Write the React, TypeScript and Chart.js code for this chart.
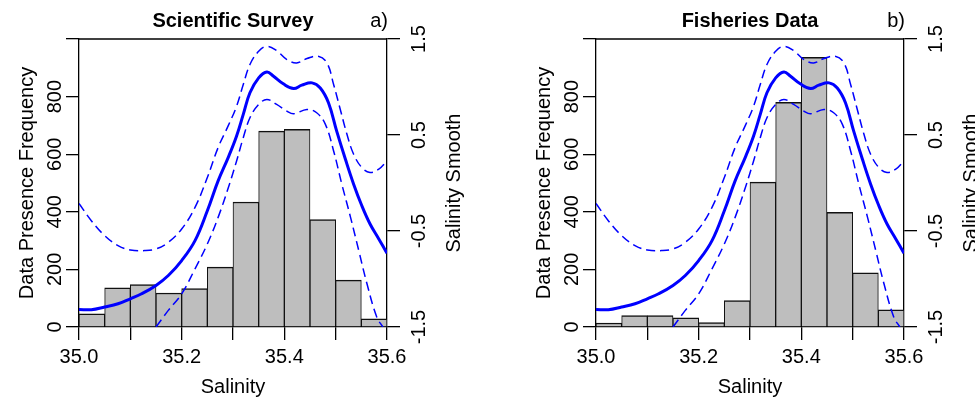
import React, { useEffect, useRef } from "react";
import { Chart, registerables } from "chart.js";

Chart.register(...registerables);

// Histogram bins (salinity bin centres, bin width 0.05)
const binCenters = [35.025, 35.075, 35.125, 35.175, 35.225, 35.275, 35.325, 35.375, 35.425, 35.475, 35.525, 35.575];
const surveyCounts = [46, 136, 147, 118, 133, 208, 434, 680, 686, 373, 163, 28];
const fisheryCounts = [14, 40, 40, 32, 15, 92, 503, 780, 936, 398, 188, 60];

// Salinity smooth (right axis) and its confidence band
const smoothX = [35.0, 35.024, 35.05, 35.076, 35.1, 35.122, 35.15, 35.174, 35.2, 35.226, 35.25, 35.271, 35.291, 35.307, 35.32, 35.333, 35.35, 35.366, 35.379, 35.398, 35.418, 35.434, 35.454, 35.47, 35.486, 35.502, 35.519, 35.535, 35.551, 35.567, 35.584, 35.6];
const smoothY = [-1.317, -1.32, -1.292, -1.258, -1.206, -1.154, -1.067, -0.964, -0.808, -0.6, -0.289, 0.022, 0.27, 0.49, 0.715, 0.94, 1.095, 1.157, 1.112, 1.033, 0.984, 1.019, 1.043, 0.99, 0.836, 0.54, 0.247, -0.012, -0.237, -0.427, -0.583, -0.732];
const upperX = [35.0, 35.024, 35.05, 35.076, 35.1, 35.128, 35.15, 35.174, 35.2, 35.226, 35.25, 35.271, 35.291, 35.307, 35.32, 35.333, 35.35, 35.366, 35.385, 35.405, 35.424, 35.444, 35.466, 35.483, 35.496, 35.509, 35.522, 35.535, 35.551, 35.567, 35.584, 35.6];
const upperY = [-0.213, -0.393, -0.548, -0.652, -0.697, -0.704, -0.687, -0.618, -0.479, -0.254, 0.057, 0.369, 0.6, 0.8, 1.026, 1.234, 1.372, 1.424, 1.379, 1.286, 1.251, 1.296, 1.32, 1.251, 1.026, 0.766, 0.507, 0.3, 0.161, 0.109, 0.144, 0.23];
const lowerX = [35.15, 35.174, 35.2, 35.226, 35.25, 35.271, 35.291, 35.307, 35.32, 35.333, 35.35, 35.366, 35.385, 35.405, 35.418, 35.444, 35.463, 35.48, 35.496, 35.512, 35.529, 35.545, 35.561, 35.58, 35.592];
const lowerY = [-1.5, -1.327, -1.154, -0.894, -0.635, -0.358, -0.047, 0.23, 0.472, 0.68, 0.818, 0.87, 0.818, 0.749, 0.721, 0.766, 0.732, 0.611, 0.334, -0.012, -0.358, -0.704, -1.05, -1.396, -1.5];

// Axis ticks
const xTickValues = [35.0, 35.1, 35.2, 35.3, 35.4, 35.5, 35.6];
const xTickLabels = ["35.0", "", "35.2", "", "35.4", "", "35.6"];
const leftTickValues = [0, 200, 400, 600, 800, 1000];
const leftTickLabels = ["0", "200", "400", "600", "800", ""];
const rightTickValues = [-1.5, -0.5, 0.5, 1.5];
const rightTickLabels = ["-1.5", "-0.5", "0.5", "1.5"];

const FONT = '"Liberation Sans", Arial, Helvetica, sans-serif';
const H = 401;

type PanelProps = { title: string; tag: string; counts: number[]; left: number; width: number };

function Panel({ title, tag, counts, left, width }: PanelProps) {
  const ref = useRef<HTMLCanvasElement | null>(null);

  useEffect(() => {
    const canvas = ref.current;
    if (!canvas) return;

    const textPlugin = {
      id: "panelText",
      afterDraw(chart: any) {
        const { ctx, chartArea, scales } = chart;
        const { left: l, right: r, top: t, bottom: b } = chartArea;
        ctx.save();
        ctx.strokeStyle = "#000";
        ctx.lineWidth = 1.3;
        ctx.beginPath();
        ctx.moveTo(l, t);
        ctx.lineTo(r, t);
        ctx.stroke();

        ctx.fillStyle = "#000";
        ctx.textBaseline = "alphabetic";
        ctx.font = `bold 20px ${FONT}`;
        ctx.textAlign = "center";
        ctx.fillText(title, (l + r) / 2, t - 12);
        ctx.font = `20px ${FONT}`;
        ctx.textAlign = "right";
        ctx.fillText(tag, r + 1, t - 12);

        ctx.textAlign = "center";
        xTickValues.forEach((v, i) => {
          if (xTickLabels[i]) ctx.fillText(xTickLabels[i], scales.x.getPixelForValue(v), b + 36.3);
        });
        ctx.fillText("Salinity", (l + r) / 2, b + 66.3);

        const vText = (txt: string, x: number, y: number) => {
          ctx.save();
          ctx.translate(x, y);
          ctx.rotate(-Math.PI / 2);
          ctx.textAlign = "center";
          ctx.fillText(txt, 0, 0);
          ctx.restore();
        };
        leftTickValues.forEach((v, i) => {
          if (leftTickLabels[i]) vText(leftTickLabels[i], l - 17.6, scales.y.getPixelForValue(v));
        });
        vText("Data Presence Frequency", l - 46, (t + b) / 2);
        rightTickValues.forEach((v, i) => {
          if (rightTickLabels[i]) vText(rightTickLabels[i], r + 37.5, scales.y2.getPixelForValue(v));
        });
        vText("Salinity Smooth", r + 72.5, (t + b) / 2);
        ctx.restore();
      },
    };

    const axisGrid = { display: true, drawOnChartArea: false, drawTicks: true, tickLength: 13, color: "#000", lineWidth: 1.3, offset: false };
    const axisBorder = { display: true, color: "#000", width: 1.3 };

    const chart = new Chart(canvas, {
      type: "bar",
      data: {
        datasets: [
          {
            type: "line",
            data: smoothX.map((x, i) => ({ x, y: smoothY[i] })),
            yAxisID: "y2",
            borderColor: "#0000FF",
            borderWidth: 3,
            pointRadius: 0,
            tension: 0.4,
            order: 0,
          },
          {
            type: "line",
            data: upperX.map((x, i) => ({ x, y: upperY[i] })),
            yAxisID: "y2",
            borderColor: "#0000FF",
            borderWidth: 1.5,
            borderDash: [9, 5],
            pointRadius: 0,
            tension: 0.4,
            order: 0,
          },
          {
            type: "line",
            data: lowerX.map((x, i) => ({ x, y: lowerY[i] })),
            yAxisID: "y2",
            borderColor: "#0000FF",
            borderWidth: 1.5,
            borderDash: [9, 5],
            pointRadius: 0,
            tension: 0.4,
            order: 0,
          },
          {
            type: "bar",
            data: binCenters.map((x, i) => ({ x, y: counts[i] })),
            yAxisID: "y",
            backgroundColor: "#BEBEBE",
            borderColor: "#111111",
            borderWidth: { top: 1.5, left: 1, right: 1, bottom: 0 },
            borderSkipped: false,
            categoryPercentage: 1,
            barPercentage: 1,
            order: 1,
          },
        ] as any,
      },
      options: {
        animation: false,
        responsive: false,
        maintainAspectRatio: false,
        events: [],
        layout: { padding: { top: 39, left: 0, right: 0, bottom: 0 }, autoPadding: false } as any,
        plugins: { legend: { display: false }, tooltip: { enabled: false }, title: { display: false } },
        scales: {
          x: {
            type: "linear",
            min: 35.0,
            max: 35.6,
            offset: false,
            afterBuildTicks: (s: any) => {
              s.ticks = xTickValues.map((v) => ({ value: v }));
            },
            afterFit: (s: any) => {
              s.height = H - 327;
            },
            ticks: { display: false },
            grid: axisGrid,
            border: axisBorder,
          },
          y: {
            type: "linear",
            position: "left",
            min: 0,
            max: 1000,
            afterBuildTicks: (s: any) => {
              s.ticks = leftTickValues.map((v) => ({ value: v }));
            },
            afterFit: (s: any) => {
              s.width = 79;
            },
            ticks: { display: false },
            grid: axisGrid,
            border: axisBorder,
          },
          y2: {
            type: "linear",
            position: "right",
            min: -1.5,
            max: 1.5,
            afterBuildTicks: (s: any) => {
              s.ticks = rightTickValues.map((v) => ({ value: v }));
            },
            afterFit: (s: any) => {
              s.width = width - 387;
            },
            ticks: { display: false },
            grid: axisGrid,
            border: axisBorder,
          },
        } as any,
      },
      plugins: [textPlugin],
    });

    return () => chart.destroy();
  }, [title, tag, counts, width]);

  return (
    <canvas
      ref={ref}
      width={width}
      height={H}
      style={{ position: "absolute", left, top: 0, width, height: H, display: "block" }}
    />
  );
}

export default function App() {
  return (
    <div style={{ position: "fixed", left: 0, top: 0, width: 975, height: H, background: "#fff", overflow: "hidden" }}>
      <Panel title="Scientific Survey" tag="a)" counts={surveyCounts} left={0} width={487} />
      <Panel title="Fisheries Data" tag="b)" counts={fisheryCounts} left={517} width={458} />
    </div>
  );
}
